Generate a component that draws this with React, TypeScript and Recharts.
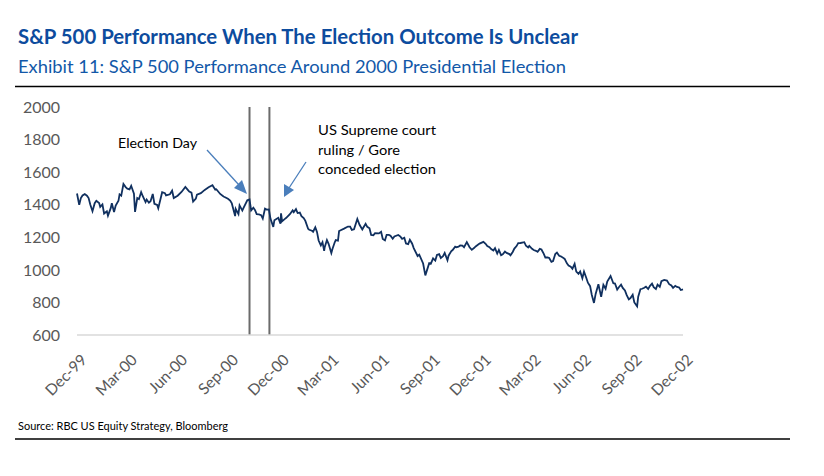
import React from 'react'
import { LineChart, Line, XAxis, YAxis, ReferenceLine } from 'recharts'

// S&P 500 closes, roughly weekly plus the daily lows / highs visible in the chart
const dates = [
  '1999-12-31', '2000-01-04', '2000-01-07', '2000-01-14', '2000-01-21', '2000-01-28',
  '2000-02-04', '2000-02-11', '2000-02-18', '2000-02-25', '2000-03-03', '2000-03-07',
  '2000-03-10', '2000-03-17', '2000-03-24', '2000-03-31', '2000-04-07', '2000-04-14',
  '2000-04-21', '2000-04-28', '2000-05-05', '2000-05-12', '2000-05-19', '2000-05-26',
  '2000-06-02', '2000-06-09', '2000-06-16', '2000-06-23', '2000-06-30', '2000-07-07',
  '2000-07-14', '2000-07-21', '2000-07-28', '2000-08-04', '2000-08-11', '2000-08-18',
  '2000-08-25', '2000-09-01', '2000-09-08', '2000-09-15', '2000-09-22', '2000-09-29',
  '2000-10-06', '2000-10-12', '2000-10-13', '2000-10-18', '2000-10-20', '2000-10-27',
  '2000-11-03', '2000-11-07', '2000-11-10', '2000-11-17', '2000-11-24', '2000-12-01',
  '2000-12-08', '2000-12-15', '2000-12-20', '2000-12-22', '2000-12-29',
  '2001-01-02', '2001-01-05', '2001-01-12', '2001-01-19', '2001-01-26', '2001-01-30',
  '2001-02-02', '2001-02-09', '2001-02-16', '2001-02-23', '2001-03-02', '2001-03-09',
  '2001-03-16', '2001-03-22', '2001-03-23', '2001-03-30', '2001-04-04', '2001-04-06',
  '2001-04-12', '2001-04-20', '2001-04-27', '2001-05-04', '2001-05-11', '2001-05-21',
  '2001-05-25', '2001-06-01', '2001-06-08', '2001-06-15', '2001-06-22', '2001-06-29',
  '2001-07-06', '2001-07-13', '2001-07-20', '2001-07-27', '2001-08-03', '2001-08-10',
  '2001-08-17', '2001-08-24', '2001-08-31', '2001-09-07', '2001-09-10', '2001-09-17',
  '2001-09-21', '2001-09-28', '2001-10-05', '2001-10-12', '2001-10-19', '2001-10-26',
  '2001-11-02', '2001-11-09', '2001-11-16', '2001-11-23', '2001-11-30', '2001-12-05',
  '2001-12-14', '2001-12-21', '2001-12-28',
  '2002-01-04', '2002-01-11', '2002-01-18', '2002-01-25', '2002-01-29', '2002-02-01',
  '2002-02-08', '2002-02-15', '2002-02-22', '2002-03-01', '2002-03-08', '2002-03-19',
  '2002-03-22', '2002-03-28', '2002-04-05', '2002-04-12', '2002-04-19', '2002-04-26',
  '2002-05-03', '2002-05-10', '2002-05-17', '2002-05-24', '2002-05-31', '2002-06-07',
  '2002-06-14', '2002-06-21', '2002-06-28', '2002-07-05', '2002-07-12', '2002-07-19',
  '2002-07-23', '2002-07-26', '2002-07-31', '2002-08-05', '2002-08-09', '2002-08-16',
  '2002-08-22', '2002-08-30', '2002-09-06', '2002-09-13', '2002-09-20', '2002-09-27',
  '2002-10-04', '2002-10-09', '2002-10-11', '2002-10-18', '2002-10-25', '2002-11-01',
  '2002-11-08', '2002-11-15', '2002-11-22', '2002-11-27', '2002-12-06', '2002-12-13',
  '2002-12-20', '2002-12-27', '2002-12-31',
]

const closes = [
  1469, 1399, 1441, 1465, 1441, 1360,
  1424, 1387, 1346, 1333, 1409, 1355,
  1395, 1464, 1527, 1499, 1516, 1356,
  1434, 1452, 1432, 1421, 1406, 1378,
  1477, 1457, 1464, 1441, 1455, 1478,
  1509, 1481, 1419, 1462, 1471, 1491,
  1507, 1520, 1495, 1466, 1449, 1437,
  1408, 1330, 1374, 1342, 1396, 1379,
  1427, 1432, 1365, 1367, 1341, 1315,
  1370, 1313, 1264, 1305, 1320,
  1283, 1298, 1318, 1342, 1354, 1373,
  1349, 1330, 1301, 1246, 1234, 1233,
  1150, 1117, 1139, 1160, 1103, 1128,
  1183, 1242, 1253, 1266, 1245, 1312,
  1277, 1260, 1264, 1214, 1225, 1224,
  1190, 1215, 1210, 1205, 1214, 1190,
  1162, 1185, 1134, 1085, 1093, 1039,
  966, 1041, 1071, 1092, 1073, 1104,
  1087, 1120, 1139, 1150, 1139, 1170,
  1123, 1144, 1161,
  1172, 1146, 1128, 1133, 1100, 1122,
  1096, 1104, 1089, 1131, 1164, 1170,
  1148, 1147, 1122, 1111, 1125, 1076,
  1073, 1054, 1106, 1083, 1067, 1027,
  1007, 989, 990, 989, 921, 847,
  797, 852, 912, 834, 908, 928,
  962, 916, 893, 889, 846, 827,
  800, 776, 835, 884, 897, 900,
  894, 909, 930, 938, 912, 889,
  895, 876, 880,
]

// extra mid-week readings, giving the line its daily jaggedness
const midDates = [
  '2000-01-10', '2000-01-18', '2000-01-24', '2000-02-01', '2000-02-09', '2000-02-15',
  '2000-02-23', '2000-03-01', '2000-03-15', '2000-03-20', '2000-03-28', '2000-04-04',
  '2000-04-12', '2000-04-18', '2000-04-25', '2000-05-03', '2000-05-09', '2000-05-16',
  '2000-05-24', '2000-06-07', '2000-06-20', '2000-07-18', '2000-07-25', '2000-08-02',
  '2000-09-06', '2000-09-21', '2000-10-03', '2000-10-25', '2000-11-14', '2000-11-20',
  '2000-11-28', '2000-12-05', '2000-12-12',
  '2001-01-03', '2001-01-10', '2001-01-24', '2001-02-06', '2001-02-13', '2001-02-21',
  '2001-02-28', '2001-03-06', '2001-03-12', '2001-03-19', '2001-03-27', '2001-04-10',
  '2001-04-16', '2001-04-18', '2001-05-08', '2001-05-15', '2001-05-30', '2001-06-05',
  '2001-06-12', '2001-06-19', '2001-07-03', '2001-07-10', '2001-07-17', '2001-07-24',
  '2001-08-07', '2001-08-14', '2001-08-21', '2001-08-28', '2001-10-01', '2001-10-09',
  '2001-10-16', '2001-10-23', '2001-10-31', '2001-11-07', '2001-11-14', '2001-11-20',
  '2001-11-27', '2001-12-10', '2001-12-18',
  '2002-01-08', '2002-01-15', '2002-01-22', '2002-02-05', '2002-02-12', '2002-02-20',
  '2002-02-26', '2002-03-05', '2002-03-12', '2002-03-26', '2002-04-02', '2002-04-09',
  '2002-04-16', '2002-04-23', '2002-04-30', '2002-05-07', '2002-05-14', '2002-05-21',
  '2002-05-28', '2002-06-04', '2002-06-11', '2002-06-18', '2002-06-25', '2002-07-02',
  '2002-07-09', '2002-07-16', '2002-08-13', '2002-08-27', '2002-09-03', '2002-09-10',
  '2002-09-17', '2002-09-24', '2002-10-01', '2002-10-15', '2002-10-22', '2002-10-29',
  '2002-11-05', '2002-11-12', '2002-11-19', '2002-12-02', '2002-12-10', '2002-12-17',
  '2002-12-24',
]

const midCloses = [
  1457, 1455, 1401, 1409, 1411, 1402,
  1360, 1379, 1424, 1456, 1508, 1494,
  1467, 1441, 1477, 1416, 1412, 1466,
  1399, 1471, 1486, 1493, 1474, 1438,
  1492, 1451, 1426, 1364, 1382, 1342,
  1336, 1376, 1371,
  1347, 1313, 1365, 1352, 1318, 1252,
  1240, 1261, 1180, 1170, 1183, 1168,
  1179, 1238, 1266, 1249, 1248, 1283,
  1255, 1212, 1234, 1181, 1215, 1191,
  1204, 1197, 1158, 1162, 1038, 1057,
  1097, 1084, 1059, 1115, 1142, 1142,
  1149, 1139, 1134,
  1160, 1139, 1119, 1090, 1112, 1097,
  1110, 1146, 1165, 1138, 1129, 1117,
  1129, 1100, 1077, 1049, 1097, 1086,
  1075, 1040, 1020, 1037, 976, 948,
  952, 900, 884, 918, 879, 909,
  873, 819, 847, 881, 890, 882,
  915, 882, 896, 934, 904, 902,
  892,
]

const tickDates = [
  '1999-12-31', '2000-03-31', '2000-06-30', '2000-09-30', '2000-12-31',
  '2001-03-31', '2001-06-30', '2001-09-30', '2001-12-31',
  '2002-03-31', '2002-06-30', '2002-09-30', '2002-12-31',
]
const tickLabels = [
  'Dec-99', 'Mar-00', 'Jun-00', 'Sep-00', 'Dec-00', 'Mar-01', 'Jun-01',
  'Sep-01', 'Dec-01', 'Mar-02', 'Jun-02', 'Sep-02', 'Dec-02',
]
const yTicks = [600, 800, 1000, 1200, 1400, 1600, 1800, 2000]
const eventDates = ['2000-11-07', '2000-12-13']

const tickTimes = tickDates.map((d) => Date.parse(d))
const data = [
  ...dates.map((d, i) => ({ t: Date.parse(d), close: closes[i] })),
  ...midDates.map((d, i) => ({ t: Date.parse(d), close: midCloses[i] })),
].sort((a, b) => a.t - b.t)

const FONT = 'Lato, "Open Sans", sans-serif'

function DateTick(props: any) {
  const { x, y, payload } = props
  const idx = tickTimes.indexOf(payload.value)
  const label = idx >= 0 ? tickLabels[idx] : ''
  return (
    <g transform={`translate(${x + 7},${y + 22})`}>
      <text
        textAnchor="end"
        dy="0.35em"
        transform="rotate(-45)"
        fill="#595959"
        fontSize={15.5}
        fontFamily={FONT}
      >
        {label}
      </text>
    </g>
  )
}

export default function App() {
  return (
    <div
      style={{
        position: 'absolute',
        left: 0,
        top: 0,
        width: 824,
        height: 476,
        background: '#fff',
        fontFamily: FONT,
      }}
    >
      <div style={{ position: 'absolute', left: 0, top: 0 }}>
        <LineChart
          width={824}
          height={476}
          data={data}
          margin={{ top: 107, right: 141, bottom: 81, left: 17 }}
        >
          <XAxis
            dataKey="t"
            type="number"
            domain={[tickTimes[0], tickTimes[tickTimes.length - 1]]}
            ticks={tickTimes}
            height={60}
            tickSize={0}
            tickMargin={0}
            tickLine={false}
            axisLine={{ stroke: '#d9d9d9', strokeWidth: 1.5 }}
            tick={<DateTick />}
            interval={0}
          />
          <YAxis
            domain={[600, 2000]}
            ticks={yTicks}
            width={60}
            tickSize={0}
            tickMargin={17}
            axisLine={false}
            tickLine={false}
            interval={0}
            tick={{ fill: '#595959', fontSize: 16, fontFamily: FONT }}
          />
          {eventDates.map((d) => (
            <ReferenceLine
              key={d}
              x={Date.parse(d)}
              stroke="#6b6b6b"
              strokeWidth={2}
            />
          ))}
          <Line
            type="linear"
            dataKey="close"
            stroke="#10305f"
            strokeWidth={1.8}
            dot={false}
            isAnimationActive={false}
          />
        </LineChart>
      </div>

      <svg
        width={824}
        height={476}
        style={{ position: 'absolute', left: 0, top: 0, pointerEvents: 'none' }}
      >
        <text x={18} y={44} fontSize={20} fontWeight={700} fill="#0d4c9e"
          textLength={560} lengthAdjust="spacingAndGlyphs">
          S&amp;P 500 Performance When The Election Outcome Is Unclear
        </text>
        <text x={18} y={73} fontSize={17} fill="#1258a8"
          textLength={548} lengthAdjust="spacingAndGlyphs">
          Exhibit 11: S&amp;P 500 Performance Around 2000 Presidential Election
        </text>
        <line x1={15} x2={790} y1={86.5} y2={86.5} stroke="#000" strokeWidth={1.5} />

        <text x={118} y={147.5} fontSize={12.5} fill="#000"
          textLength={79} lengthAdjust="spacingAndGlyphs">
          Election Day
        </text>
        <text x={318} y={135} fontSize={12.5} fill="#000"
          textLength={118} lengthAdjust="spacingAndGlyphs">
          US Supreme court
        </text>
        <text x={318} y={154.5} fontSize={12.5} fill="#000"
          textLength={82} lengthAdjust="spacingAndGlyphs">
          ruling / Gore
        </text>
        <text x={318} y={174} fontSize={12.5} fill="#000"
          textLength={118} lengthAdjust="spacingAndGlyphs">
          conceded election
        </text>

        {/* arrows */}
        <line x1={207} y1={150} x2={239} y2={185} stroke="#4a7ebb" strokeWidth={1.3} />
        <polygon points="247,194 234,188 242,180" fill="#4a7ebb" />
        <line x1={306} y1={162} x2={289} y2={188} stroke="#4a7ebb" strokeWidth={1.3} />
        <polygon points="284,197 284,184 294,190" fill="#4a7ebb" />

        <text x={18} y={429.5} fontSize={12} fill="#000"
          textLength={210} lengthAdjust="spacingAndGlyphs">
          Source: RBC US Equity Strategy, Bloomberg
        </text>
        <line x1={15} x2={790} y1={439} y2={439} stroke="#000" strokeWidth={1.5} />
      </svg>
    </div>
  )
}
